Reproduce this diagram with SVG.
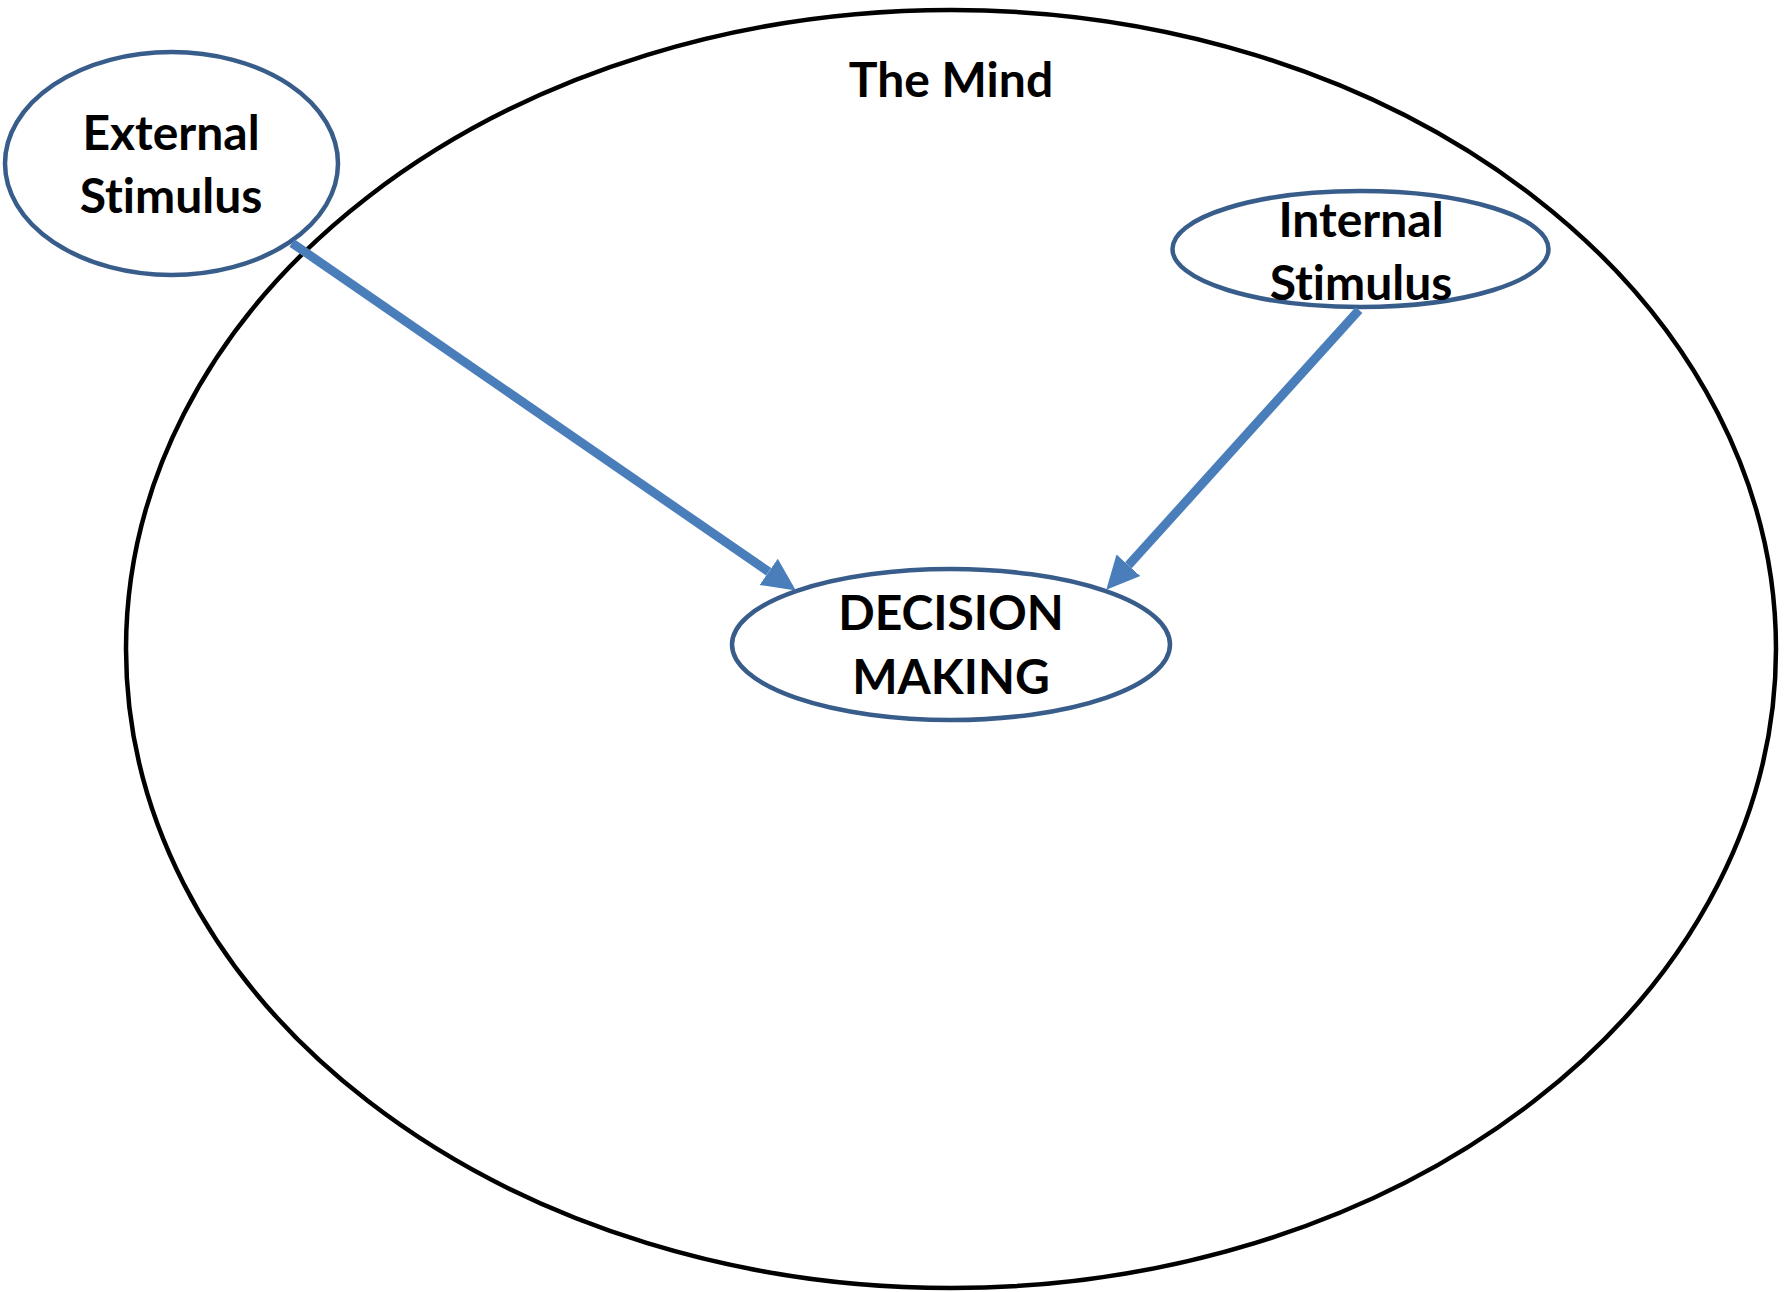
<svg xmlns="http://www.w3.org/2000/svg" width="1787" height="1292" viewBox="0 0 1787 1292">
<defs>
<style>
.node{fill:#ffffff;stroke:#385D8A;stroke-width:4.5}
.mind{fill:none;stroke:#000000;stroke-width:4.5}
.lbl{font-family:Lato,"Open Sans","Liberation Sans",sans-serif;font-weight:bold;font-size:48px;fill:#000000;text-anchor:middle;font-variant-ligatures:none;font-feature-settings:"liga" 0,"clig" 0}
.conn{stroke:#4A7EBB;stroke-width:9;fill:none}
</style>
<marker id="arrow" markerUnits="userSpaceOnUse" markerWidth="34" markerHeight="34" refX="0" refY="17" orient="auto" viewBox="0 0 34 34">
<path d="M0,1 L33,17 L0,33 z" fill="#4A7EBB"/>
</marker>
</defs>
<rect width="1787" height="1292" fill="#ffffff"/>
<g id="mind">
<ellipse class="mind" cx="951" cy="649" rx="825" ry="639"/>
<text class="lbl" x="951" y="97" font-size="50">The Mind</text>
</g>
<g id="external">
<ellipse class="node" cx="171.5" cy="163.5" rx="166.5" ry="111.5"/>
<text class="lbl" x="171" y="150">External</text>
<text class="lbl" x="171" y="213">Stimulus</text>
</g>
<g id="internal">
<ellipse class="node" cx="1360.5" cy="249" rx="188" ry="58"/>
<text class="lbl" x="1361" y="237">Internal</text>
<text class="lbl" x="1361" y="300">Stimulus</text>
</g>
<g id="decision">
<ellipse class="node" cx="951" cy="644.5" rx="219" ry="75.5"/>
<text class="lbl" x="951" y="630" font-size="44.5">DECISION</text>
<text class="lbl" x="951" y="694" font-size="44.5">MAKING</text>
</g>
<g id="connectors">
<line class="conn" x1="292" y1="243" x2="768.7" y2="571.8" marker-end="url(#arrow)"/>
<line class="conn" x1="1359" y1="310" x2="1128.4" y2="565.3" marker-end="url(#arrow)"/>
</g>
</svg>
